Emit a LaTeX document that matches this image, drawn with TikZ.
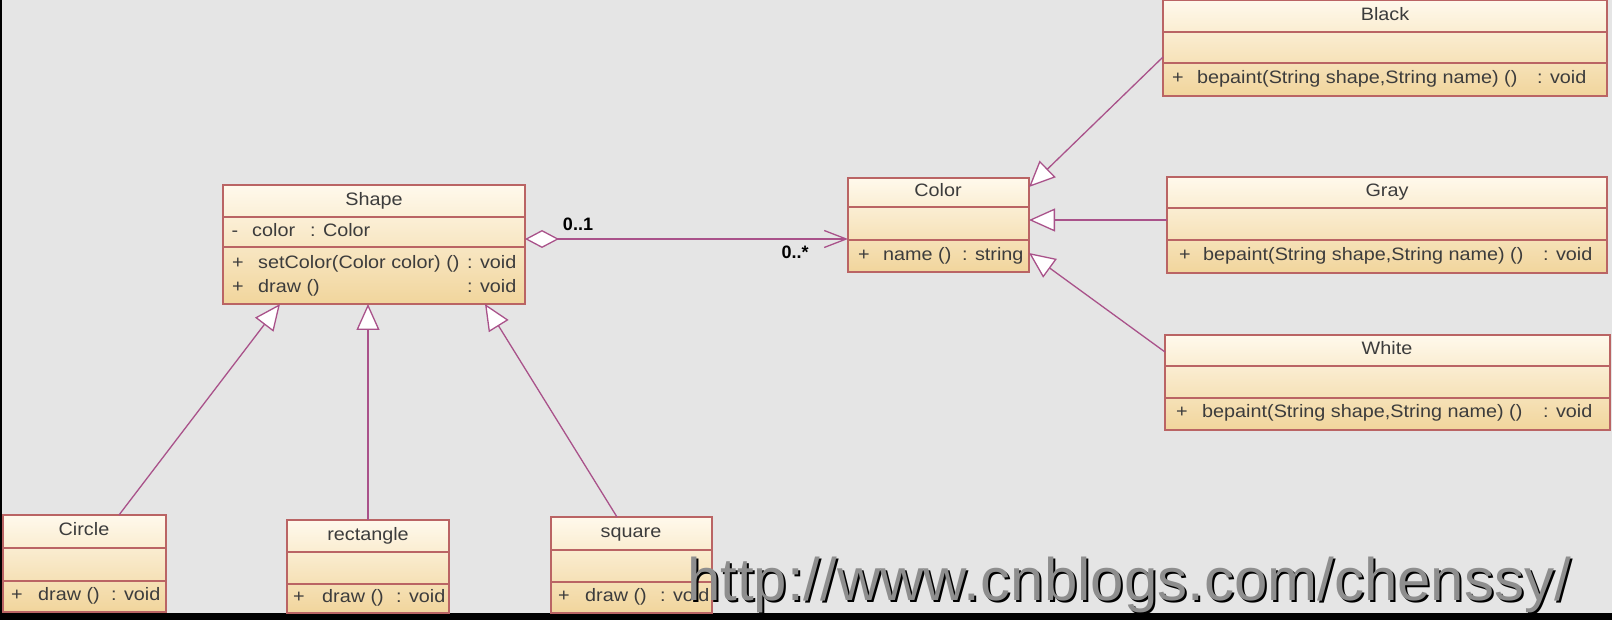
\documentclass[tikz,border=0pt]{standalone}
\usepackage{fontspec}
\setmainfont{Liberation Sans}
\newfontfamily\umlfont[FakeStretch=1.1]{Liberation Sans}
\usetikzlibrary{arrows.meta,positioning}

\definecolor{bgcol}{HTML}{E5E5E5}
\definecolor{boxedge}{HTML}{BA6464}
\definecolor{boxtop}{HTML}{FFF9EC}
\definecolor{boxbottom}{HTML}{F1D59C}
\definecolor{linkcol}{HTML}{A9528A}
\definecolor{textcol}{HTML}{3C3C3C}
\definecolor{urlgray}{HTML}{8E8E8E}

\tikzset{
  classbox/.style={draw=boxedge, line width=1.4pt, top color=boxtop, bottom color=boxbottom,
    anchor=north west, inner sep=0pt, outer sep=0pt},
  classline/.style={draw=boxedge, line width=1.4pt},
  member/.style={text=textcol, font=\umlfont\fontsize{18}{20}\selectfont, inner sep=0pt,
    text height=13pt, text depth=4pt},
  multiplicity/.style={text=black, font=\fontsize{18}{20}\selectfont\bfseries, inner sep=0pt},
  generalize/.style={draw=linkcol, line width=1.3pt,
    -{Triangle[open, length=26pt, width=23pt, fill=white, line width=1.3pt]}},
  assoc/.style={draw=linkcol, line width=1.6pt,
    {Diamond[open, length=34pt, width=18pt, fill=white, line width=1.3pt]}-{Straight Barb[length=22pt, width=17pt, line width=1.3pt]}},
  watermark/.style={anchor=base west, inner sep=0pt, font=\fontsize{60}{60}\selectfont}
}

% name, x, y, width, height, first line, second line
\newcommand\umlclass[7]{%
  \node[classbox, minimum width=#4pt, minimum height=#5pt] (#1) at (#2,#3) {};
  \draw[classline] ([yshift=-#6pt]#1.north west) -- ([yshift=-#6pt]#1.north east);
  \draw[classline] ([yshift=-#7pt]#1.north west) -- ([yshift=-#7pt]#1.north east);}

% id, x sign, x name, x type, y, sign, name, type
\newcommand\umlrow[8]{%
  \node[member] (#1s) at (#2,#5) {#6};
  \node[member, anchor=west] (#1n) at (#3,#5) {#7};
  \node[member, anchor=west] (#1t) at (#4,#5) {#8};}

\newcommand\blogurl{http://www.cnblogs.com/chenssy/}

\begin{document}
\begin{tikzpicture}[x=1pt, y=-1pt]
  \useasboundingbox (0,0) rectangle (1612,620);
  \fill[bgcol] (0,0) rectangle (1612,620);
  \fill[black] (0,0) rectangle (2,620);
  \fill[black] (0,613) rectangle (1612,620);

  % classes
  \umlclass{shapecls}{223}{185}{302}{119}{32}{62}
  \umlclass{colorcls}{848}{178}{181}{94}{29}{62}
  \umlclass{blackcls}{1163}{0}{444}{96}{32}{63}
  \umlclass{graycls}{1167}{177}{440}{96}{31}{63}
  \umlclass{whitecls}{1165}{335}{445}{95}{31}{63}
  \umlclass{circlecls}{3}{515}{163}{97}{33}{66}
  \umlclass{rectcls}{287}{520}{162}{93}{32}{64}
  \umlclass{squarecls}{551}{517}{161}{96}{33}{65}

  % titles
  \node[member] (shapetitle) at (374,201) {Shape};
  \node[member] (colortitle) at (938,192) {Color};
  \node[member] (blacktitle) at (1385,16) {Black};
  \node[member] (graytitle) at (1387,192) {Gray};
  \node[member] (whitetitle) at (1387,350) {White};
  \node[member] (circletitle) at (84,531) {Circle};
  \node[member] (recttitle) at (368,536) {rectangle};
  \node[member] (squaretitle) at (631,533) {square};

  % members
  \umlrow{shapea}{235}{252}{310}{232}{-}{color}{: Color}
  \umlrow{shapeb}{238}{258}{467}{264}{+}{setColor(Color color) ()}{: void}
  \umlrow{shapec}{238}{258}{467}{288}{+}{draw ()}{: void}
  \umlrow{colora}{864}{883}{962}{256}{+}{name ()}{: string}
  \umlrow{blacka}{1178}{1197}{1537}{79}{+}{bepaint(String shape,String name) ()}{: void}
  \umlrow{graya}{1185}{1203}{1543}{256}{+}{bepaint(String shape,String name) ()}{: void}
  \umlrow{whitea}{1182}{1202}{1543}{413}{+}{bepaint(String shape,String name) ()}{: void}
  \umlrow{circlea}{17}{38}{111}{596}{+}{draw ()}{: void}
  \umlrow{recta}{299}{322}{396}{598}{+}{draw ()}{: void}
  \umlrow{squarea}{564}{585}{660}{597}{+}{draw ()}{: void}

  % inheritance
  \draw[generalize] ([xshift=34.5pt]circlecls.north) -- ([xshift=-94pt]shapecls.south);
  \draw[generalize] (rectcls.north) -- (rectcls.north |- shapecls.south);
  \draw[generalize] ([xshift=-14.5pt]squarecls.north) -- ([xshift=111pt]shapecls.south);
  \draw[generalize] ([yshift=-9pt]blackcls.west) -- ([yshift=-9pt]colorcls.north east);
  \draw[generalize] ([yshift=5pt]graycls.west) -- ([yshift=5pt]colorcls.east);
  \draw[generalize] ([yshift=-17pt]whitecls.north west) -- ([yshift=19pt]colorcls.south east);

  % association
  \draw[assoc] ([yshift=5.5pt]shapecls.east) -- ([yshift=-14pt]colorcls.west);
  \node[multiplicity] (multone) at (578,224) {0..1};
  \node[multiplicity] (multmany) at (795,252) {0..*};

  % blog address, with its dark shadow
  \node[watermark] (url) at (687,600)
    {\makebox[0pt][l]{\kern2pt\raisebox{-2pt}{\textcolor{black}{\blogurl}}}\textcolor{urlgray}{\blogurl}};
\end{tikzpicture}
\end{document}
